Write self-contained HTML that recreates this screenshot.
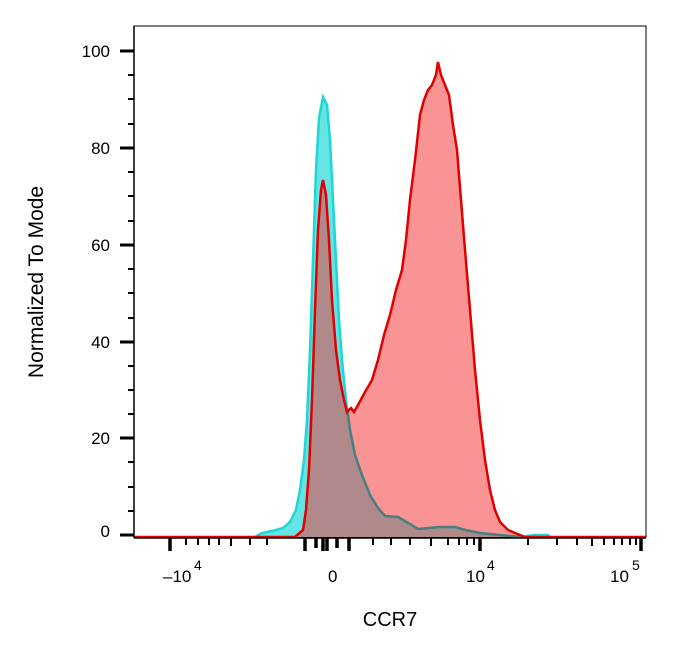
<!DOCTYPE html>
<html><head><meta charset="utf-8"><style>body{margin:0;background:#fff}svg{display:block}text{font-family:"Liberation Sans",sans-serif;fill:#000}</style></head>
<body>
<svg width="686" height="650" viewBox="0 0 686 650">
<defs>
<path id="cy" d="M255,537 L262,533 L272,531 L283,528 L290,522 L296,510 L300,490 L304,460 L307,420 L310,350 L313,260 L316,170 L319,118 L323,97 L327,105 L330,140 L333,200 L336,260 L339,320 L342,360 L346,400 L350,430 L355,455 L362,475 L370,495 L378,508 L385,516 L398,517 L410,524 L418,529 L440,527 L455,527 L465,530 L480,533 L500,535 L520,537 L535,535 L548,535 L550,537"/>
<path id="rd" d="M134,537 L295,537 L303,530 L306,510 L309,470 L312,400 L315,310 L318,230 L321,190 L323,180 L326,195 L329,240 L332,300 L336,350 L340,380 L344,400 L347,412 L351,408 L354,412 L358,405 L365,392 L372,380 L378,360 L384,335 L390,315 L396,290 L402,270 L406,240 L410,200 L415,160 L420,115 L424,100 L428,90 L432,85 L436,75 L438,62 L441,75 L445,85 L449,95 L453,125 L457,150 L461,200 L465,250 L470,310 L475,370 L480,420 L485,460 L490,490 L495,510 L500,522 L508,530 L515,533 L525,537 L646,537"/>
<clipPath id="rc"><use href="#rd"/></clipPath>
</defs>
<rect x="134" y="26" width="512" height="511" fill="none" stroke="#000" stroke-width="1"/>
<use href="#cy" fill="#66e3e3"/>
<use href="#rd" fill="#fa9494"/>
<g clip-path="url(#rc)"><use href="#cy" fill="#b08a8a"/></g>
<use href="#cy" fill="none" stroke="#1dd6d6" stroke-width="2.5"/>
<g clip-path="url(#rc)"><use href="#cy" fill="none" stroke="#4e7c7c" stroke-width="2.5"/></g>
<use href="#rd" fill="none" stroke="#e00000" stroke-width="2.5"/>
<g stroke="#000">
<line x1="134" y1="26" x2="134" y2="538" stroke-width="1.5"/>
<line x1="120" y1="51" x2="134" y2="51" stroke-width="3"/>
<line x1="120" y1="148" x2="134" y2="148" stroke-width="3"/>
<line x1="120" y1="245" x2="134" y2="245" stroke-width="3"/>
<line x1="120" y1="342" x2="134" y2="342" stroke-width="3"/>
<line x1="120" y1="438" x2="134" y2="438" stroke-width="3"/>
<line x1="120" y1="535" x2="134" y2="535" stroke-width="3"/>
<g stroke-width="2">
<line x1="128" y1="75" x2="134" y2="75"/><line x1="128" y1="99" x2="134" y2="99"/><line x1="128" y1="124" x2="134" y2="124"/>
<line x1="128" y1="172" x2="134" y2="172"/><line x1="128" y1="196" x2="134" y2="196"/><line x1="128" y1="221" x2="134" y2="221"/>
<line x1="128" y1="269" x2="134" y2="269"/><line x1="128" y1="293" x2="134" y2="293"/><line x1="128" y1="318" x2="134" y2="318"/>
<line x1="128" y1="366" x2="134" y2="366"/><line x1="128" y1="390" x2="134" y2="390"/><line x1="128" y1="414" x2="134" y2="414"/>
<line x1="128" y1="462" x2="134" y2="462"/><line x1="128" y1="487" x2="134" y2="487"/><line x1="128" y1="511" x2="134" y2="511"/>
</g>
<line x1="134" y1="538" x2="646" y2="538" stroke-width="1.5"/>
<g stroke-width="3.5">
<line x1="170" y1="538" x2="170" y2="551"/><line x1="480" y1="538" x2="480" y2="551"/><line x1="641" y1="538" x2="641" y2="551"/>
<line x1="305" y1="538" x2="305" y2="551"/><line x1="349" y1="538" x2="349" y2="551"/>
<line x1="316" y1="538" x2="316" y2="548"/><line x1="323" y1="538" x2="323" y2="551"/><line x1="327" y1="538" x2="327" y2="551"/><line x1="337" y1="538" x2="337" y2="548"/>
</g>
<g stroke-width="2">
<line x1="186" y1="538" x2="186" y2="545"/><line x1="198" y1="538" x2="198" y2="545"/><line x1="209" y1="538" x2="209" y2="545"/><line x1="219" y1="538" x2="219" y2="545"/><line x1="231" y1="538" x2="231" y2="546"/><line x1="250" y1="538" x2="250" y2="545"/><line x1="267" y1="538" x2="267" y2="545"/>
<line x1="373" y1="538" x2="373" y2="545"/><line x1="391" y1="538" x2="391" y2="545"/><line x1="410" y1="538" x2="410" y2="545"/><line x1="431" y1="538" x2="431" y2="546"/><line x1="448" y1="538" x2="448" y2="545"/><line x1="459" y1="538" x2="459" y2="545"/><line x1="467" y1="538" x2="467" y2="545"/><line x1="474" y1="538" x2="474" y2="545"/>
<line x1="528" y1="538" x2="528" y2="545"/><line x1="557" y1="538" x2="557" y2="545"/><line x1="577" y1="538" x2="577" y2="545"/><line x1="592" y1="538" x2="592" y2="546"/><line x1="604" y1="538" x2="604" y2="545"/><line x1="614" y1="538" x2="614" y2="545"/><line x1="622" y1="538" x2="622" y2="545"/><line x1="630" y1="538" x2="630" y2="545"/><line x1="636" y1="538" x2="636" y2="545"/>
</g>
</g>
<g font-size="17" text-anchor="end">
<text x="110" y="57">100</text><text x="110" y="154">80</text><text x="110" y="251">60</text><text x="110" y="348">40</text><text x="110" y="444">20</text><text x="110" y="537">0</text>
</g>
<g font-size="17">
<text x="163" y="582">–10</text><text x="194" y="570" font-size="14">4</text>
<text x="328" y="582">0</text>
<text x="466" y="582">10</text><text x="487" y="570" font-size="14">4</text>
<text x="610" y="582">10</text><text x="632" y="570" font-size="14">5</text>
</g>
<text x="390" y="626" font-size="20" text-anchor="middle">CCR7</text>
<text transform="translate(43,282) rotate(-90)" font-size="21" text-anchor="middle">Normalized To Mode</text>
</svg>
</body></html>
